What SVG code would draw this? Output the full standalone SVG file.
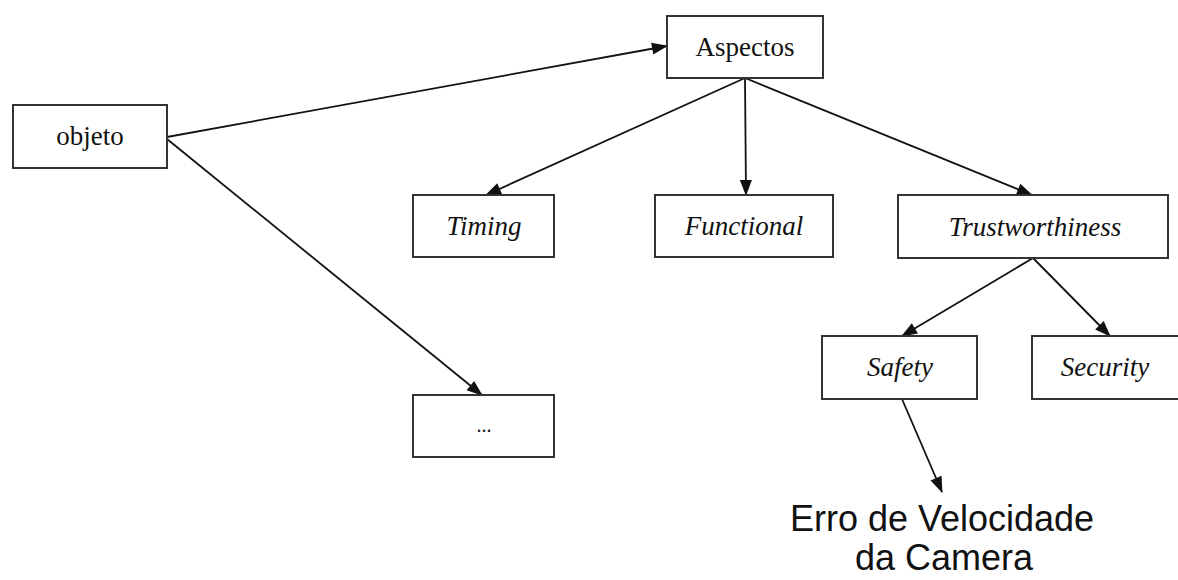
<svg xmlns="http://www.w3.org/2000/svg" width="1178" height="580" viewBox="0 0 1178 580">
<style>
.box{fill:#fff;stroke:#333;stroke-width:2}
.t{font-family:"Liberation Serif",serif;font-size:27px;fill:#111;text-anchor:middle}
.i{font-style:italic}
.c{stroke:#111;stroke-width:1.8;fill:none;marker-end:url(#ah)}
.big{font-family:"Liberation Sans",Arial,sans-serif;font-size:36px;fill:#111;text-anchor:middle}
</style>
<defs>
<marker id="ah" viewBox="0 0 16 12" refX="15" refY="6" markerWidth="16" markerHeight="12" markerUnits="userSpaceOnUse" orient="auto" overflow="visible">
<path d="M0,0 L16,6 L0,12 z" fill="#111"/>
</marker>
</defs>
<rect width="1178" height="580" fill="#fff"/>
<g id="connectors">
<line class="c" x1="167" y1="137" x2="667" y2="46"/>
<line class="c" x1="167" y1="139" x2="482" y2="395"/>
<line class="c" x1="745" y1="78" x2="486" y2="195"/>
<line class="c" x1="745" y1="78" x2="746" y2="195"/>
<line class="c" x1="745" y1="78" x2="1032" y2="195"/>
<line class="c" x1="1033" y1="258" x2="902" y2="336"/>
<line class="c" x1="1033" y1="258" x2="1110" y2="336"/>
<line class="c" x1="902" y1="399" x2="942" y2="492"/>
</g>
<g id="objeto"><rect class="box" x="13" y="105" width="154" height="63"/><text class="t" x="90" y="145">objeto</text></g>
<g id="aspectos"><rect class="box" x="667" y="16" width="156" height="62"/><text class="t" x="745" y="56">Aspectos</text></g>
<g id="timing"><rect class="box" x="413" y="195" width="141" height="62"/><text class="t i" x="484" y="235">Timing</text></g>
<g id="functional"><rect class="box" x="655" y="195" width="178" height="62"/><text class="t i" x="744" y="235">Functional</text></g>
<g id="trustworthiness"><rect class="box" x="898" y="195" width="270" height="63"/><text class="t i" x="1035" y="236">Trustworthiness</text></g>
<g id="safety"><rect class="box" x="822" y="336" width="155" height="63"/><text class="t i" x="900" y="376">Safety</text></g>
<g id="security"><rect class="box" x="1032" y="336" width="160" height="63"/><text class="t i" x="1105" y="376">Security</text></g>
<g id="more"><rect class="box" x="413" y="395" width="141" height="62"/><text class="t" x="484" y="432" style="font-size:20px">...</text></g>
<g id="erro"><text class="big" x="942" y="531">Erro de Velocidade</text><text class="big" x="944" y="570">da Camera</text></g>
</svg>
